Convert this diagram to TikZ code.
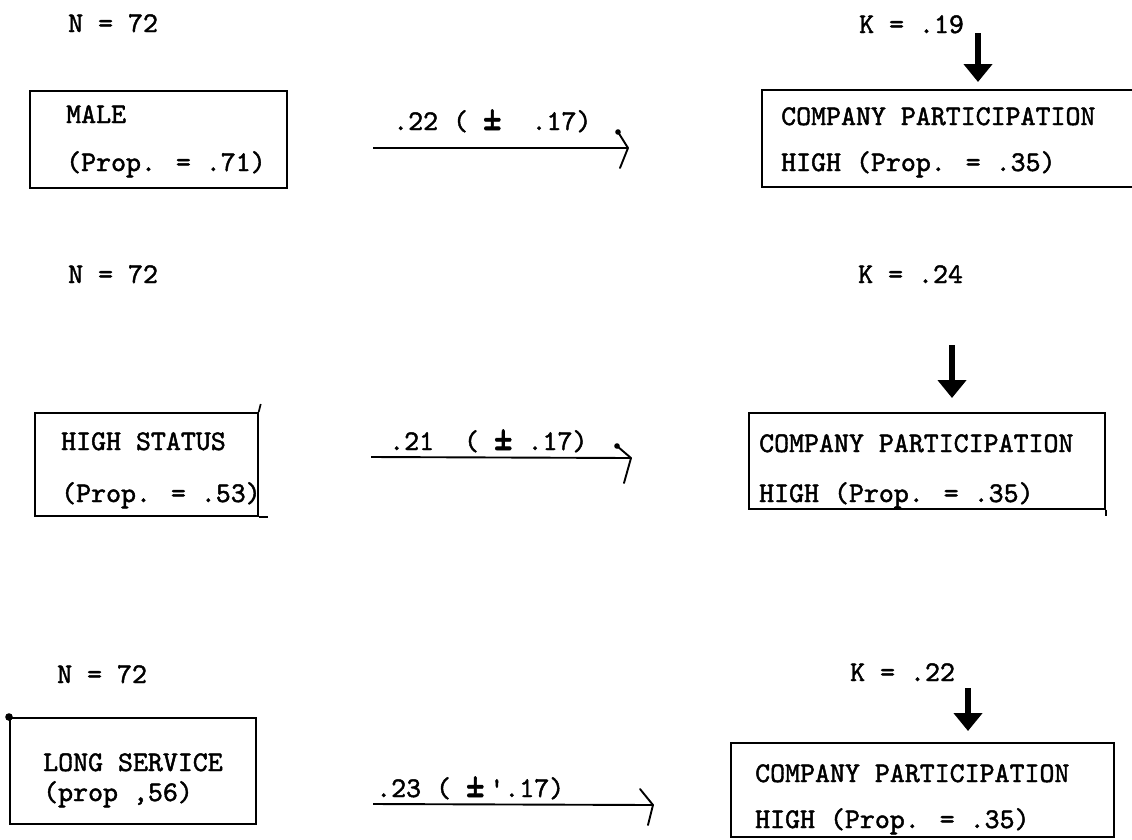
\documentclass[tikz,border=0pt]{standalone}
\usepackage{fontspec}
\newfontfamily\tw{lmmono10-regular.otf}[FakeBold=1.6]
\usetikzlibrary{arrows.meta}
\newcommand{\bigpm}{\scalebox{1.25}[1.6]{±}}
\begin{document}
\begin{tikzpicture}[x=1pt,y=-1pt,
  txt/.style={font=\tw\fontsize{28.5}{34}\selectfont, anchor=base west, inner sep=0pt},
  boxst/.style={draw, line width=1.7pt, inner sep=0pt, anchor=north west},
  conn/.style={line width=1.9pt},
  head/.style={line width=1.9pt, line cap=round, line join=round},
  karrow/.style={line width=5.5pt, -{Triangle[width=28pt,length=18pt]}}]
\fill[white] (0,0) rectangle (1132,839);
\clip (0,0) rectangle (1132,839);

% ---------- row 1 ----------
\node[txt] (n1) at (68,32) {N = 72};
\node[txt] (k1) at (859,33) {K = .19};
\node[boxst, minimum width=257pt, minimum height=97pt] (l1) at (29,90) {};
\node[txt] (l1a) at (66,123) {MALE};
\node[txt] (l1b) at (66,171) {(Prop. = .71)};
\node[boxst, minimum width=400pt, minimum height=97pt] (r1) at (761,89) {};
\node[txt] (r1a) at (781,125) {COMPANY PARTICIPATION};
\node[txt] (r1b) at (781,171) {HIGH (Prop. = .35)};
\node[txt] (e1) at (393,130) {.22 ( \bigpm\ \ .17)};
\coordinate (s1) at (373,148);
\coordinate (t1) at (628,148);
\coordinate (u1) at (618,132);
\coordinate (w1) at (620,168);
\draw[conn] (s1) -- (t1);
\draw[head] (u1) -- (t1) -- (w1);
\fill (u1) circle (2.8pt);
\coordinate (ka1) at (978,33);
\draw[karrow, shorten >=7pt] (ka1) -- (ka1 |- r1.north);

% ---------- row 2 ----------
\node[txt] (n2) at (68,283) {N = 72};
\node[txt] (k2) at (858,283) {K = .24};
\node[boxst, minimum width=223pt, minimum height=103pt] (l2) at (34,412) {};
\draw[line width=1.7pt] (l2.north east) -- ++(2,-8);
\draw[line width=1.7pt] (l2.south east) -- ++(9,0);
\node[txt] (l2a) at (61,450) {HIGH STATUS};
\node[txt] (l2b) at (61,502) {(Prop. = .53)};
\node[boxst, minimum width=356pt, minimum height=96pt] (r2) at (748,412) {};
\draw[line width=1.7pt] (r2.south east) -- ++(0,6);
\node[txt] (r2a) at (759,452) {COMPANY PARTICIPATION};
\node[txt] (r2b) at (759,502) {HIGH (Prop. = .35)};
\node[txt] (e2) at (389,450) {.21\ \ ( \bigpm\ .17)};
\coordinate (s2) at (371,457);
\coordinate (t2) at (631,458);
\coordinate (u2) at (617,446);
\coordinate (w2) at (624,483);
\draw[conn] (s2) -- (t2);
\draw[head] (u2) -- (t2) -- (w2);
\fill (u2) circle (2.8pt);
\coordinate (ka2) at (952,345);
\draw[karrow, shorten >=14pt] (ka2) -- (ka2 |- r2.north);

% ---------- row 3 ----------
\node[txt] (n3) at (57,683) {N = 72};
\node[txt] (k3) at (850,681) {K = .22};
\node[boxst, minimum width=246pt, minimum height=106pt] (l3) at (9,717) {};
\fill (l3.north west) circle (3.8pt);
\node[txt] (l3a) at (43,771) {LONG SERVICE};
\node[txt] (l3b) at (43,801) {(prop ,56)};
\node[boxst, minimum width=383pt, minimum height=94pt] (r3) at (730,742) {};
\node[txt] (r3a) at (755,782) {COMPANY PARTICIPATION};
\node[txt] (r3b) at (755,828) {HIGH (Prop. = .35)};
\node[txt] (e3) at (376,797) {.23 ( \bigpm\,'.17)};
\coordinate (s3) at (373,804);
\coordinate (t3) at (653,805);
\coordinate (u3) at (640,789);
\coordinate (w3) at (648,825);
\draw[conn] (s3) -- (t3);
\draw[head] (u3) -- (t3) -- (w3);
\coordinate (ka3) at (968,688);
\draw[karrow, shorten >=11pt] (ka3) -- (ka3 |- r3.north);
\end{tikzpicture}
\end{document}
